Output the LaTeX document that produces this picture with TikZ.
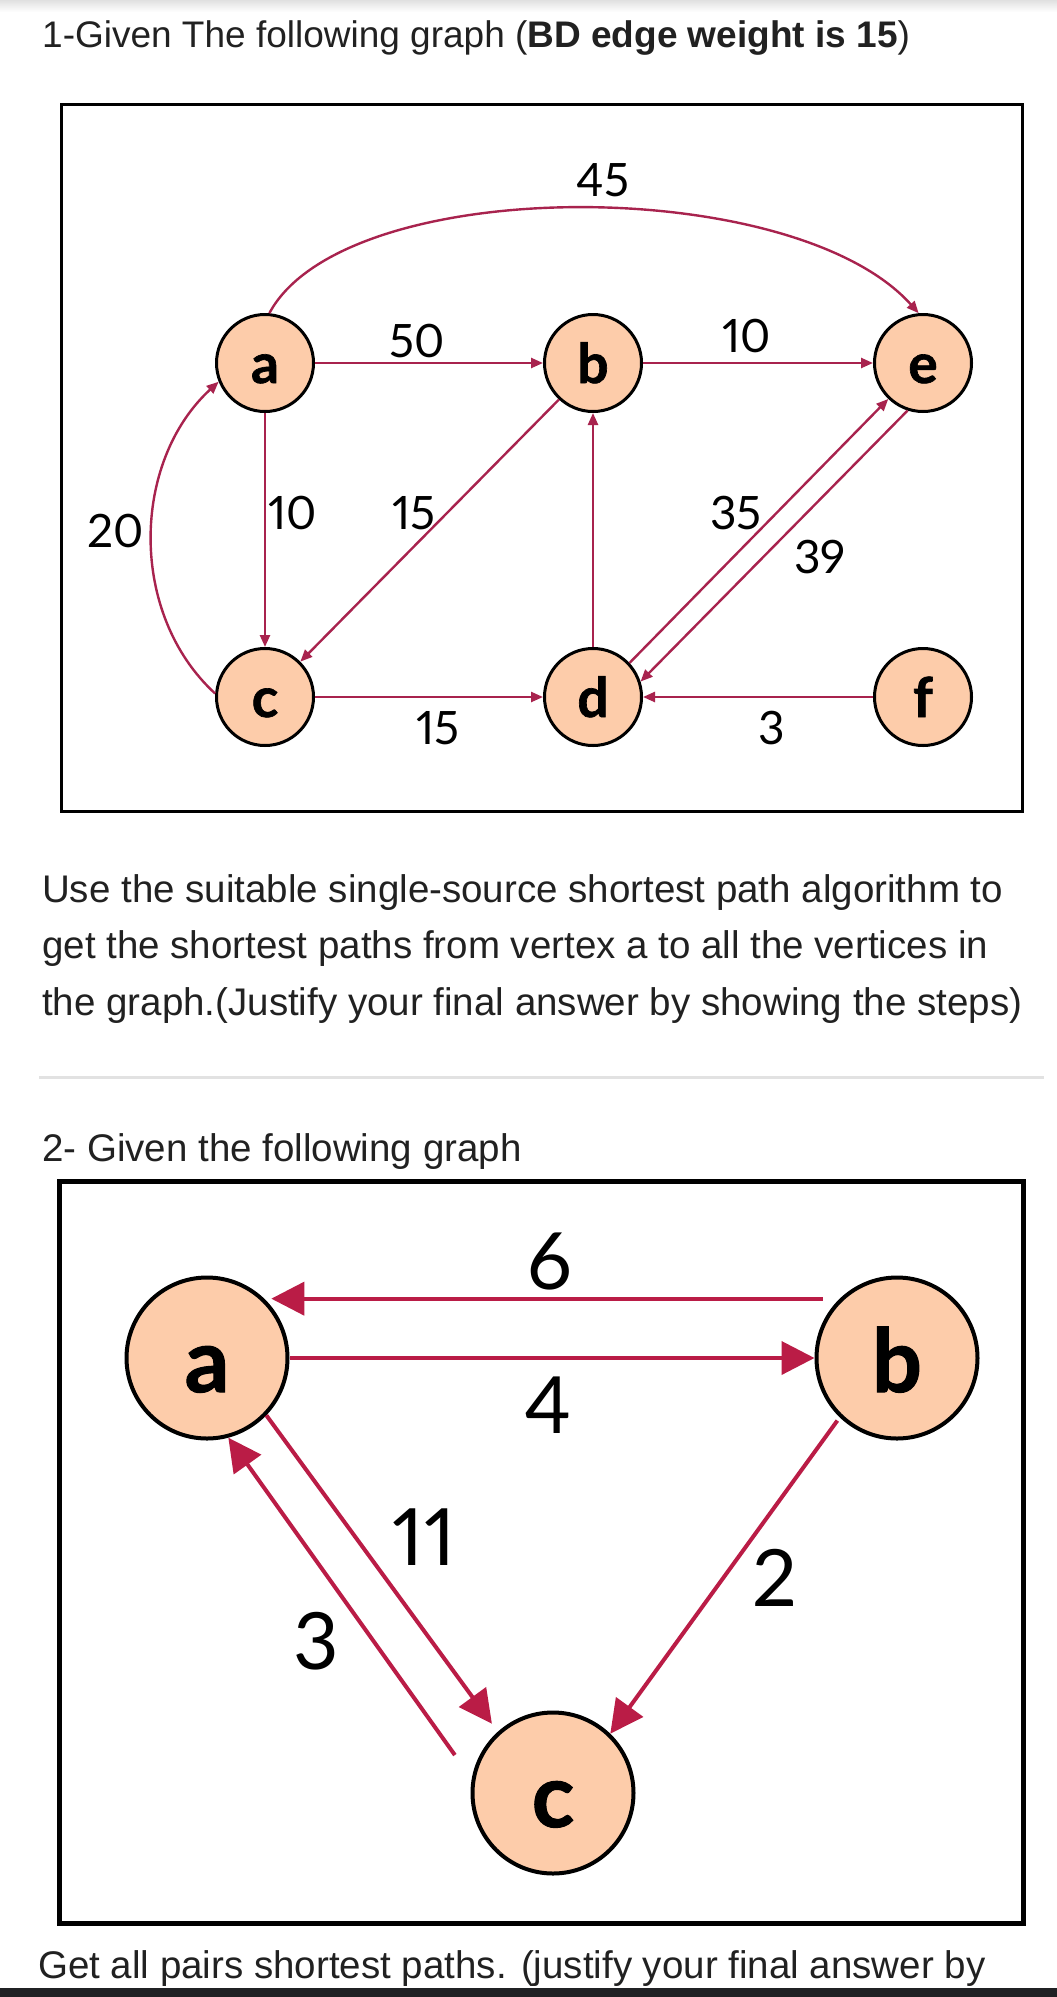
\documentclass[tikz,border=0pt]{standalone}
\usepackage{fontspec}
\setmainfont{Liberation Sans}
\newfontfamily\graphfont{Lato}[Numbers=Proportional]
\newfontfamily\vertfont{Lato}[BoldFeatures={FakeBold=1.2}]
\usepackage{xcolor}
\definecolor{cText}{HTML}{212121}
\definecolor{cEdge}{HTML}{A8234E}
\definecolor{cEdgeBig}{HTML}{BA1C46}
\definecolor{cFill}{HTML}{FDCCAA}
\definecolor{cRule}{HTML}{E2E2E2}
\definecolor{cBar}{HTML}{202124}
\usetikzlibrary{arrows.meta,calc}
\tikzset{
  page-text/.style={anchor=base west,inner sep=0pt,text=cText,
    font=\fontsize{38.5}{46}\selectfont},
  vert-small/.style={draw=black,line width=3pt,circle,fill=cFill,
    minimum size=97pt,inner sep=0pt,text height=40pt,text depth=0pt,
    font=\vertfont\bfseries\fontsize{55}{60}\selectfont},
  vert-big/.style={draw=black,line width=4pt,circle,fill=cFill,
    minimum size=161pt,inner sep=0pt,text height=68pt,text depth=0pt,
    font=\vertfont\bfseries\fontsize{88}{90}\selectfont},
  wt-small/.style={inner sep=0pt,font=\graphfont\fontsize{46}{50}\selectfont},
  wt-big/.style={inner sep=0pt,font=\graphfont\fontsize{79}{80}\selectfont},
  arrow-small/.style={-{Triangle[length=12pt,width=10pt]},line width=2.4pt,draw=cEdge},
  arrow-big/.style={-{Triangle[length=33pt,width=33pt]},line width=4pt,draw=cEdgeBig},
}

\begin{document}
\begin{tikzpicture}[x=1pt,y=1pt]
  \fill[white] (0,0) rectangle (1057,-1997);
  \useasboundingbox (0,0) rectangle (1057,-1997);
  \shade[top color=black!12,bottom color=white] (0,0) rectangle (1057,-12);

  % question 1
  \node[page-text,font=\fontsize{37}{44}\selectfont] (title1) at (42,-47)
    {1-Given The following graph (\textbf{BD edge weight is 15})};
  \draw[line width=3pt] (61,-104) rectangle (1022,-811);

  \node[vert-small] (a) at (265,-363) {a};
  \node[vert-small] (b) at (593,-363) {b};
  \node[vert-small] (e) at (923,-363) {e};
  \node[vert-small] (c) at (265,-697) {c};
  \node[vert-small] (d) at (593,-697) {d};
  \node[vert-small] (f) at (923,-697) {f};

  \draw[arrow-small] (a) -- (b);
  \draw[arrow-small] (b) -- (e);
  \draw[arrow-small] (a) -- (c);
  \draw[arrow-small] (d) -- (b);
  \draw[arrow-small] (c) -- (d);
  \draw[arrow-small] (f) -- (d);
  \draw[arrow-small] (b.227) -- (c.45);
  \draw[arrow-small] (d.43) -- (e.226);
  \draw[arrow-small] (e.252) -- (d.18);
  \draw[arrow-small] (a.85) .. controls +(75,140) and +(-125,140) .. (e.95);
  \draw[arrow-small] (c.176) .. controls +(-87,80) and +(-87,-80) .. (a.202);

  \node[wt-small] (w-ae) at (603,-180) {45};
  \node[wt-small] (w-ab) at (417,-341) {50};
  \node[wt-small] (w-be) at (747,-336) {10};
  \node[wt-small,anchor=west] (w-ac) at (268,-513) {10};
  \node[wt-small] (w-bc) at (414,-513) {15};
  \node[wt-small] (w-cd) at (438,-728) {15};
  \node[wt-small] (w-de) at (736,-513) {35};
  \node[wt-small] (w-ed) at (820,-557) {39};
  \node[wt-small] (w-fd) at (772,-728) {3};
  \node[wt-small] (w-ca) at (116,-531) {20};

  \node[page-text] (ask1a) at (42,-902) {Use the suitable single-source shortest path algorithm to};
  \node[page-text] (ask1b) at (42,-958) {get the shortest paths from vertex a to all the vertices in};
  \node[page-text] (ask1c) at (42,-1015) {the graph.(Justify your final answer by showing the steps)};
  \draw[cRule,line width=3pt] (39,-1077) -- (1044,-1077);

  % question 2
  \node[page-text] (title2) at (42,-1161) {2- Given the following graph};
  \draw[line width=5pt] (59,-1181) rectangle (1023,-1923);

  \node[vert-big] (a2) at (207,-1358) {a};
  \node[vert-big] (b2) at (897,-1358) {b};
  \node[vert-big] (c2) at (553,-1793) {c};

  \draw[arrow-big] (a2) -- (b2);
  \draw[arrow-big,shorten <=17pt,shorten >=7pt] (b2.134) -- (a2.46 |- b2.134);
  \draw[arrow-big,shorten >=10pt] (a2.-44.5) -- (c2.132);
  \draw[arrow-big,shorten <=29pt] (c2.170) -- (a2.285);
  \draw[arrow-big,shorten <=4pt] (b2.226) -- (c2.46);

  \node[wt-big] (w2-ba) at (550,-1261) {6};
  \node[wt-big] (w2-ab) at (548,-1405) {4};
  \node[wt-big] (w2-ac) at (424,-1537) {11};
  \node[wt-big] (w2-ca) at (316,-1641) {3};
  \node[wt-big] (w2-bc) at (775,-1578) {2};

  \node[page-text] (ask2) at (38,-1978) {Get all pairs shortest paths. (justify your final answer by};
  \fill[cBar] (0,-1988) rectangle (1057,-1997);
\end{tikzpicture}
\end{document}
